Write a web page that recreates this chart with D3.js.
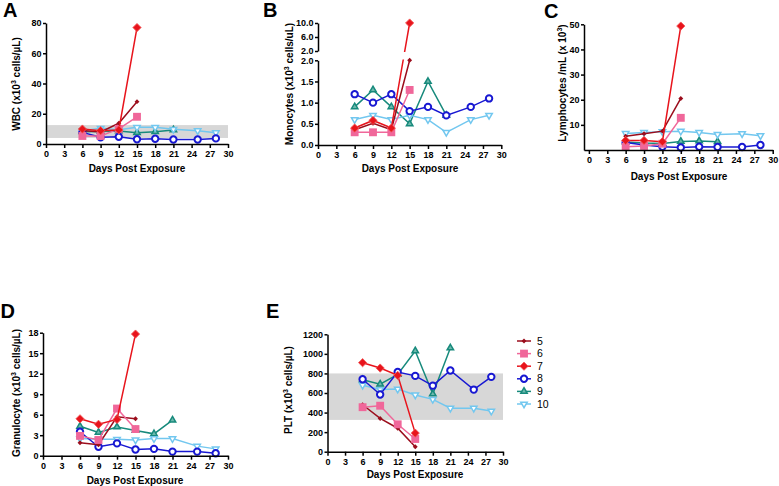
<!DOCTYPE html>
<html lang="en">
<head>
<meta charset="UTF-8">
<title>Blood counts after exposure</title>
<script src="https://d3js.org/d3.v7.min.js"></script>
<style>
  body { margin: 0; background: #fff; }
  svg { display: block; font-family: "Liberation Sans", Arial, sans-serif; }
  .axis path, .axis line { stroke: #000; stroke-width: 1.5; }
  .axis text { font-size: 9px; font-weight: bold; fill: #000; font-family: "Liberation Sans", Arial, sans-serif; }
  .title { font-size: 10px; font-weight: bold; }
  .letter { font-size: 20px; font-weight: bold; }
  .legend text { font-size: 10.5px; }
</style>
</head>
<body>
<div id="chart"></div>
<script>
// days of sampling and animal ids
const days = [6, 9, 12, 15, 18, 21, 25, 28];
const animals = ["5", "6", "7", "8", "9", "10"];
const xTicks = [0, 3, 6, 9, 12, 15, 18, 21, 24, 27, 30];

// one row per animal (5, 6, 7, 8, 9, 10)
const wbc = [
  [9, 8, 13.7, 28],
  [5.3, 5.3, 10, 18],
  [9.9, 8.8, 9.3, 77],
  [7.7, 4.4, 4.8, 3.1, 3.5, 3, 3, 3.7],
  [8.1, 8.3, 8.6, 7.5, 8.1, 9.3],
  [8.8, 10.4, 9.5, 11, 11, 9.7, 8.8, 7.5]
];
const mono = [
  [0.36, 0.51, 0.36, 2.0],
  [0.3, 0.3, 0.3, 1.3],
  [0.4, 0.58, 0.4, 10],
  [1.2, 1.0, 1.2, 0.8, 0.9, 0.7, 0.9, 1.1],
  [0.9, 1.3, 0.9, 0.5, 1.5, 0.7],
  [0.6, 0.7, 0.6, 0.7, 0.6, 0.3, 0.6, 0.7]
];
const lymph = [
  [5.5, 6.5, 7.5, 20.5],
  [1.3, 1.6, 2.5, 12.8],
  [3.8, 3.8, 3.3, 49.3],
  [3.0, 2.0, 1.3, 1.0, 1.3, 1.2, 1.2, 2.0],
  [3.2, 2.8, 2.6, 3.4, 3.6, 3.3],
  [6.6, 7.0, 7.3, 7.5, 7.0, 6.2, 6.5, 5.7]
];
const gran = [
  [1.9, 1.6, 5.7, 5.4],
  [2.9, 2.3, 6.9, 3.9],
  [5.4, 4.6, 5.3, 17.8],
  [3.5, 1.3, 1.8, 0.9, 1.0, 0.6, 0.6, 0.35],
  [4.3, 3.4, 4.2, 3.7, 3.2, 5.2],
  [2.5, 2.4, 2.4, 2.3, 2.5, 2.5, 1.4, 1.0]
];
const plt = [
  [480, 340, 240, 50],
  [455, 470, 280, 130],
  [910, 855, 780, 190],
  [740, 585, 815, 775, 675, 830, 635, 765],
  [735, 690, 790, 1030, 590, 1060],
  [680, 635, 640, 580, 535, 445, 445, 415]
];
// normal ranges (grey bands)
const wbcRange = [4, 12.5];
const pltRange = [325, 800];

const colors = ["#9b0d1c", "#f0679a", "#e8141c", "#1818d2", "#178a7c", "#72c7ef"];
const drawOrder = [4, 5, 3, 0, 1, 2];

const svg = d3.select("#chart").append("svg")
  .attr("width", 779)
  .attr("height", 486);

function addMarker(g, i, cx, cy) {
  const c = colors[i];
  let p, rot = 0;
  if (i === 0) {
    p = g.append("path").attr("d", d3.symbol(d3.symbolSquare, 12)()).attr("fill", c);
    rot = 45;
  } else if (i === 1) {
    p = g.append("path").attr("d", d3.symbol(d3.symbolSquare, 62)()).attr("fill", c);
  } else if (i === 2) {
    p = g.append("path").attr("d", d3.symbol(d3.symbolSquare, 34)()).attr("fill", c)
      .attr("stroke", "#f25a5a").attr("stroke-width", 0.8);
    rot = 45;
  } else if (i === 3) {
    p = g.append("path").attr("d", d3.symbol(d3.symbolCircle, 32)()).attr("fill", "#fff")
      .attr("stroke", c).attr("stroke-width", 2);
  } else if (i === 4) {
    p = g.append("path").attr("d", d3.symbol(d3.symbolTriangle, 18)()).attr("fill", "#6fb9ad")
      .attr("stroke", c).attr("stroke-width", 1.5);
  } else {
    p = g.append("path").attr("d", d3.symbol(d3.symbolTriangle, 18)()).attr("fill", "#fff")
      .attr("stroke", c).attr("stroke-width", 1.5);
    rot = 180;
  }
  p.attr("transform", `translate(${cx},${cy}) rotate(${rot})`);
}

function drawSeries(g, data, x, y, clips) {
  const line = d3.line().x(d => x(d[0])).y(d => y(d[1]));
  drawOrder.forEach(i => {
    const pts = data[i].map((v, j) => [days[j], v]);
    (clips || [null]).forEach(cp => {
      const path = g.append("path").datum(pts)
        .attr("d", line)
        .attr("fill", "none")
        .attr("stroke", colors[i])
        .attr("stroke-width", 1.5);
      if (cp) path.attr("clip-path", `url(#${cp})`);
    });
    pts.forEach(d => addMarker(g, i, x(d[0]), y(d[1])));
  });
}

function xAxis(g, x, y0) {
  g.append("g").attr("class", "axis")
    .attr("transform", `translate(0,${y0})`)
    .call(d3.axisBottom(x).tickValues(xTicks).tickSize(4).tickSizeOuter(0).tickPadding(3));
}

function yAxis(g, y, x0, ticks, fmt) {
  g.append("g").attr("class", "axis")
    .attr("transform", `translate(${x0},0)`)
    .call(d3.axisLeft(y).tickValues(ticks).tickSize(3).tickSizeOuter(0).tickPadding(1.5)
      .tickFormat(fmt || d3.format("d")));
}

function yTitle(cx, cy, pre, post) {
  const t = svg.append("text").attr("class", "title")
    .attr("text-anchor", "middle")
    .attr("transform", `translate(${cx},${cy}) rotate(-90)`)
    .attr("dy", "0.35em");
  t.append("tspan").text(pre);
  t.append("tspan").attr("dy", -4).attr("font-size", "7px").text("3");
  t.append("tspan").attr("dy", 4).text(post);
}

function xTitle(cx, by) {
  svg.append("text").attr("class", "title").attr("text-anchor", "middle")
    .attr("x", cx).attr("y", by).text("Days Post Exposure");
}

function letter(t, lx, by) {
  svg.append("text").attr("class", "letter").attr("x", lx).attr("y", by).text(t);
}

function band(g, x, y, r) {
  g.append("rect")
    .attr("x", x.range()[0]).attr("width", x.range()[1] - x.range()[0])
    .attr("y", y(r[1])).attr("height", y(r[0]) - y(r[1]))
    .attr("fill", "#d7d7d7");
}

// ---- A: WBC ----
{
  const g = svg.append("g");
  const x = d3.scaleLinear().domain([0, 30]).range([46, 228]);
  const y = d3.scaleLinear().domain([0, 80]).range([144, 23]);
  band(g, x, y, wbcRange);
  drawSeries(g, wbc, x, y);
  xAxis(g, x, 144);
  yAxis(g, y, 46, [0, 20, 40, 60, 80]);
  letter("A", 3, 17);
  yTitle(16, 84, "WBC (x10", " cells/µL)");
  xTitle(137, 172);
}

// ---- B: Monocytes (broken axis) ----
{
  const g = svg.append("g");
  const x = d3.scaleLinear().domain([0, 30]).range([318, 501.3]);
  const yLow = d3.scaleLinear().domain([0, 2]).range([145, 60.3]);
  const yUp = d3.scaleLinear().domain([2, 10]).range([51, 23]);
  const y = v => (v <= 2 ? yLow(v) : yUp(v));
  const defs = svg.append("defs");
  defs.append("clipPath").attr("id", "clipLow").append("rect")
    .attr("x", 300).attr("y", 59.5).attr("width", 220).attr("height", 100);
  defs.append("clipPath").attr("id", "clipUp").append("rect")
    .attr("x", 300).attr("y", 0).attr("width", 220).attr("height", 52);
  drawSeries(g, mono, x, y, ["clipLow", "clipUp"]);
  xAxis(g, x, 145);
  yAxis(g, yLow, 318, [0, 0.5, 1, 1.5, 2], d3.format(".1f"));
  yAxis(g, yUp, 318, [2, 6, 10], d3.format(".1f"));
  letter("B", 263, 17);
  yTitle(289, 84, "Monocytes (x10", " cells/uL)");
  xTitle(410, 172);
}

// ---- C: Lymphocytes ----
{
  const g = svg.append("g");
  const x = d3.scaleLinear().domain([-0.8, 30]).range([584, 772.7]);
  const y = d3.scaleLinear().domain([0, 50]).range([150, 24.3]);
  drawSeries(g, lymph, x, y);
  xAxis(g, x, 150);
  yAxis(g, y, 584, [10, 20, 30, 40, 50]);
  letter("C", 544, 18);
  yTitle(562.5, 83, "Lymphocytes /mL (x 10", ")");
  xTitle(679, 180);
}

// ---- D: Granulocytes ----
{
  const g = svg.append("g");
  const x = d3.scaleLinear().domain([0, 30]).range([43, 228]);
  const y = d3.scaleLinear().domain([0, 18]).range([455.7, 332.7]);
  drawSeries(g, gran, x, y);
  xAxis(g, x, 455.7);
  yAxis(g, y, 43, [0, 3, 6, 9, 12, 15, 18]);
  letter("D", 0.5, 318);
  yTitle(16, 393, "Granulocyte  (x10", " cells/µL)");
  xTitle(135, 484);
}

// ---- E: Platelets ----
{
  const g = svg.append("g");
  const x = d3.scaleLinear().domain([0, 30]).range([327.5, 503]);
  const y = d3.scaleLinear().domain([0, 1200]).range([451.7, 334.3]);
  band(g, x, y, pltRange);
  drawSeries(g, plt, x, y);
  xAxis(g, x, 451.7);
  yAxis(g, y, 327.5, [0, 200, 400, 600, 800, 1000, 1200]);
  letter("E", 266, 318);
  yTitle(288, 390, "PLT (x10", " cells/µL)");
  xTitle(415, 478);
}

// ---- legend ----
{
  const lg = svg.append("g").attr("class", "legend");
  animals.forEach((a, i) => {
    const ly = 341 + i * 12.6;
    lg.append("line").attr("x1", 517).attr("x2", 531).attr("y1", ly).attr("y2", ly)
      .attr("stroke", colors[i]).attr("stroke-width", 1.5);
    addMarker(lg, i, 524, ly);
    lg.append("text").attr("x", 537).attr("y", ly).attr("dy", "0.35em").text(a);
  });
}
</script>
</body>
</html>
